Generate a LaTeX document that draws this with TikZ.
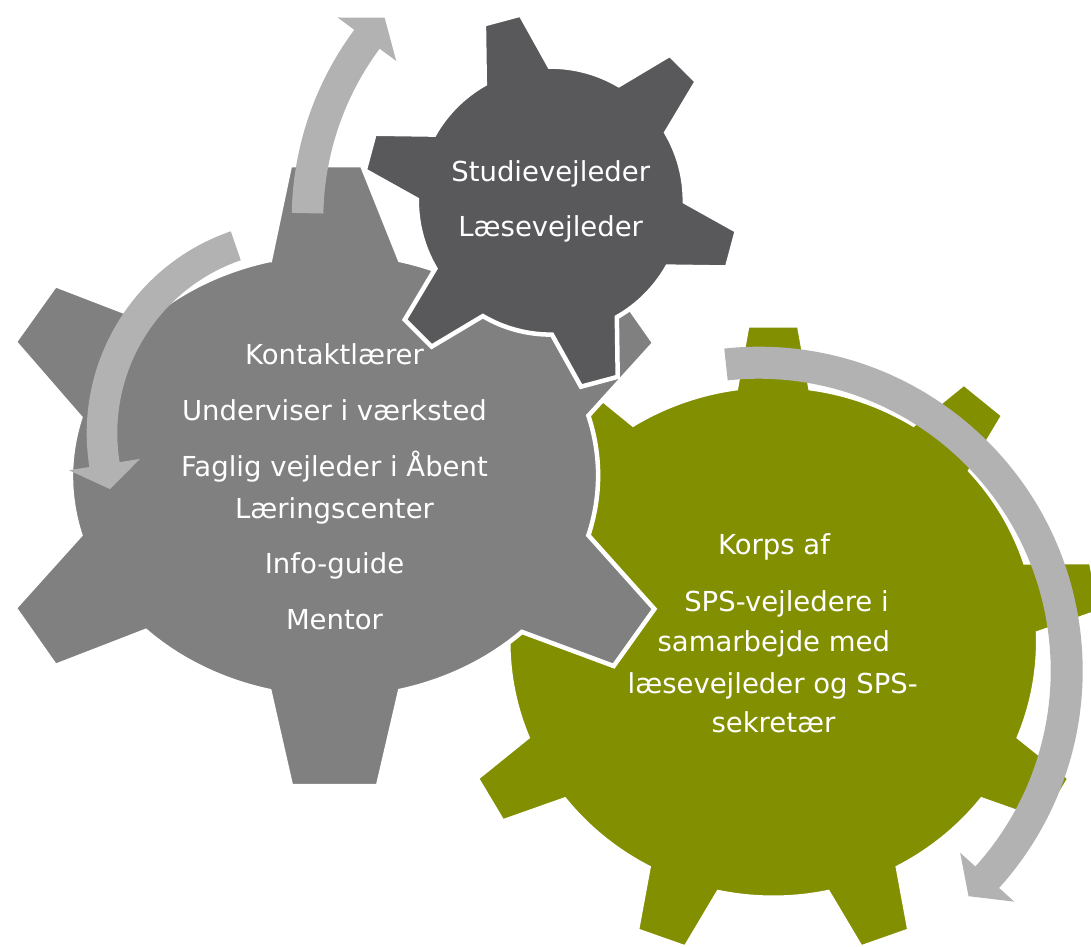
\documentclass[tikz,border=0pt]{standalone}
\usepackage{fontspec}
\newfontfamily\lblfont{DejaVu Sans}
\definecolor{geardark}{RGB}{89,89,91}
\definecolor{geargray}{RGB}{128,128,128}
\definecolor{geargreen}{RGB}{130,143,0}
\definecolor{arrowgray}{RGB}{178,178,178}
% gear outline: n teeth, first tooth angle, body radius, tip-corner radius, base half-angle, tip half-angle
\newcommand\gearteeth[6]{%
  (#2-#5:#3)
  \foreach \gi in {1,...,#1}{
    -- ({#2+(\gi-1)*360/#1-#6}:#4)
    -- ({#2+(\gi-1)*360/#1+#6}:#4)
    -- ({#2+(\gi-1)*360/#1+#5}:#3)
    arc[start angle={#2+(\gi-1)*360/#1+#5}, end angle={#2+\gi*360/#1-#5}, radius=#3]
  } -- cycle}
% curved block arrow: start angle, head-base angle, tip angle, radius, half thickness, head half width
\newcommand\circarrow[6]{%
  ({#1}:{#4+#5}) arc[start angle={#1}, end angle={#2}, radius={#4+#5}]
  -- ({#2}:{#4+#6}) -- ({#3}:{#4}) -- ({#2}:{#4-#6}) -- ({#2}:{#4-#5})
  arc[start angle={#2}, end angle={#1}, radius={#4-#5}] -- cycle}
\tikzset{
  gearfill/.style={draw=white, line width=4.5pt, line join=miter},
  arrowfill/.style={fill=arrowgray, draw=none},
  lbl/.style={text=white, font=\lblfont\fontsize{27.5}{33}\selectfont, inner sep=0pt, anchor=base},
}
\begin{document}
\begin{tikzpicture}[x=1pt,y=-1pt]
\useasboundingbox (0,0) rectangle (1091,946);
% green gear (bottom)
\begin{scope}[shift={(773.2,641.7)}, xscale=1.035]
  \path[gearfill, fill=geargreen] \gearteeth{9}{-90}{256}{317.4}{8.08}{4.52};
\end{scope}
% gray gear (middle)
\path[gearfill, fill=geargray]
  (270,260) -- (290,165) -- (362,165) -- (400,260)
  arc[start angle=-75.6, end angle=-44.7, x radius=263.6, y radius=222.4]
  -- (613.7,285) -- (654.4,343) -- (588.4,415.7)
  arc[start angle=-15.6, end angle=15.6, x radius=263.6, y radius=222.4]
  -- (654.4,609) -- (613.7,666) -- (521.9,631.9)
  arc[start angle=44.7, end angle=75.6, x radius=263.6, y radius=222.4]
  -- (378,786) -- (291,786) -- (269.4,691)
  arc[start angle=104.2, end angle=135.6, x radius=263.6, y radius=222.4]
  -- (55.3,666) -- (14.6,608) -- (80.3,535)
  arc[start angle=164.7, end angle=195.3, x radius=263.6, y radius=222.4]
  -- (14.6,342) -- (55.3,285) -- (146.1,320)
  arc[start angle=224.4, end angle=255.8, x radius=263.6, y radius=222.4]
  -- cycle;
% dark gear (top)
\begin{scope}[shift={(550.8,200.6)}]
  \path[gearfill, fill=geardark] \gearteeth{6}{-105}{134}{188.5}{14.52}{5.79};
\end{scope}
% arrows
\begin{scope}[shift={(609,219)}]
  \path[arrowfill] \circarrow{-178.9}{-143.4}{-138.1}{301.5}{15.8}{36.5};
\end{scope}
\begin{scope}[shift={(300.2,433.2)}]
  \path[arrowfill] \circarrow{-108.97}{-189.1}{-196.4}{198.2}{15.3}{36};
\end{scope}
\begin{scope}[shift={(758.7,670.7)}]
  \path[arrowfill] \circarrow{-96.1}{42.1}{47.06}{308}{16}{36.5};
\end{scope}
% texts
\node[lbl] (d1) at (550.7,181.7) {Studievejleder};
\node[lbl] (d2) at (550.7,236.7) {Læsevejleder};
\node[lbl] (g1) at (334.5,364.3) {Kontaktlærer};
\node[lbl] (g2) at (334.5,420.7) {Underviser i værksted};
\node[lbl] (g3) at (334.5,476) {Faglig vejleder i Åbent};
\node[lbl] (g4) at (334.5,518) {Læringscenter};
\node[lbl] (g5) at (334.5,573) {Info-guide};
\node[lbl] (g6) at (334.5,629.7) {Mentor};
\node[lbl] (k1) at (774,554.7) {Korps af};
\node[lbl] (k2) at (786.5,611.3) {SPS-vejledere i};
\node[lbl] (k3) at (773.8,651.3) {samarbejde med};
\node[lbl] (k4) at (772.7,693) {læsevejleder og SPS-};
\node[lbl] (k5) at (773.5,732.3) {sekretær};
\end{tikzpicture}
\end{document}
